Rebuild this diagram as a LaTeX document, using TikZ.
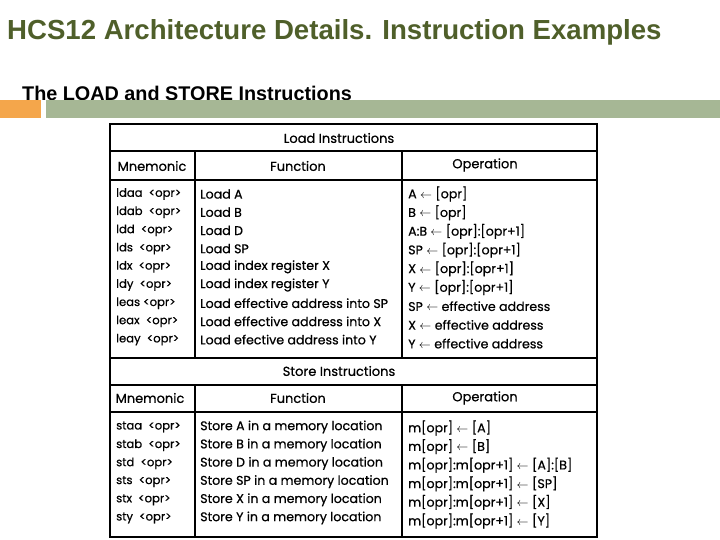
\documentclass[tikz,border=0pt]{standalone}
\usepackage{fontspec}
\setmainfont{Liberation Sans}
\newfontfamily\tabfont[FakeBold=0.6]{Poppins}
\begin{document}
\begin{tikzpicture}[x=1pt,y=-1pt,
  cell/.style={anchor=west,inner sep=0pt,font=\tabfont\fontsize{12.6}{13}\selectfont},
  mcell/.style={cell,font=\tabfont\fontsize{11.6}{13}\selectfont},
  head/.style={anchor=center,inner sep=0pt,font=\tabfont\fontsize{13}{14}\selectfont},
  grid/.style={line width=1.5pt,black}]
\definecolor{titlecol}{HTML}{4F5F2A}
\definecolor{barorange}{HTML}{F4A64B}
\definecolor{bargreen}{HTML}{A6B795}
\useasboundingbox (0,0) rectangle (720,540);
\node[anchor=west,inner sep=0pt,text=titlecol,font=\bfseries\fontsize{27.6}{30}\selectfont] (title) at (7,32) {HCS12 Architecture Details. Instruction Examples};
\node[anchor=west,inner sep=0pt,font=\bfseries\fontsize{19.8}{22}\selectfont] (sub) at (22,93) {The LOAD and STORE Instructions};
\fill[barorange] (0,100) rectangle (41,118);
\fill[bargreen] (46,100) rectangle (720,118);
% table grid
\draw[grid] (110,124) rectangle (597,537);
\draw[grid] (110,151) -- (597,151);
\draw[grid] (110,180) -- (597,180);
\draw[grid] (110,358) -- (597,358);
\draw[grid] (110,385) -- (597,385);
\draw[grid] (110,412) -- (597,412);
\draw[grid] (195,151) -- (195,358);
\draw[grid] (402,151) -- (402,358);
\draw[grid] (195,385) -- (195,537);
\draw[grid] (402,385) -- (402,537);
% headers
\node[head] (lt) at (339,138) {Load Instructions};
\node[head] (lh1) at (152,166) {Mnemonic};
\node[head] (lh2) at (298,166) {Function};
\node[head] (lh3) at (485,165) {Operation};
\node[head] (st) at (339,371) {Store Instructions};
\node[head] (sh1) at (150,398) {Mnemonic};
\node[head] (sh2) at (298,398) {Function};
\node[head] (sh3) at (485,398) {Operation};
% load rows
\foreach \m/\f/\o [count=\i from 0] in {
 ldaa \ <opr>/Load A/{A $\leftarrow$ [opr]},
 ldab \ <opr>/Load B/{B $\leftarrow$ [opr]},
 ldd \ <opr>/Load D/{A:B $\leftarrow$ [opr]:[opr+1]},
 lds \ <opr>/Load SP/{SP $\leftarrow$ [opr]:[opr+1]},
 ldx \ <opr>/Load index register X/{X $\leftarrow$ [opr]:[opr+1]},
 ldy \ <opr>/Load index register Y/{Y $\leftarrow$ [opr]:[opr+1]},
 leas <opr>/Load effective address into SP/{SP $\leftarrow$ effective address},
 leax \ <opr>/Load effective address into X/{X $\leftarrow$ effective address},
 leay \ <opr>/Load efective address into Y/{Y $\leftarrow$ effective address}}
{
 \node[mcell] (lm\i) at (116,{194+18.2*\i}) {\m};
 \node[cell] (lf\i) at (200,{194+18.2*\i}) {\f};
 \node[cell] (lo\i) at (408,{194+18.7*\i}) {\o};
}
% store rows
\foreach \m/\f/\o [count=\i from 0] in {
 staa \ <opr>/Store A in a memory location/{m[opr] $\leftarrow$ [A]},
 stab \ <opr>/Store B in a memory location/{m[opr] $\leftarrow$ [B]},
 std \ <opr>/Store D in a memory location/{m[opr]:m[opr+1] $\leftarrow$ [A]:[B]},
 sts \ <opr>/Store SP in a memory location/{m[opr]:m[opr+1] $\leftarrow$ [SP]},
 stx \ <opr>/Store X in a memory location/{m[opr]:m[opr+1] $\leftarrow$ [X]},
 sty \ <opr>/Store Y in a memory location/{m[opr]:m[opr+1] $\leftarrow$ [Y]}}
{
 \node[mcell] (sm\i) at (116,{427+18.2*\i}) {\m};
 \node[cell] (sf\i) at (200,{427+18.2*\i}) {\f};
 \node[cell] (so\i) at (408,{428+18.6*\i}) {\o};
}
\end{tikzpicture}
\end{document}
